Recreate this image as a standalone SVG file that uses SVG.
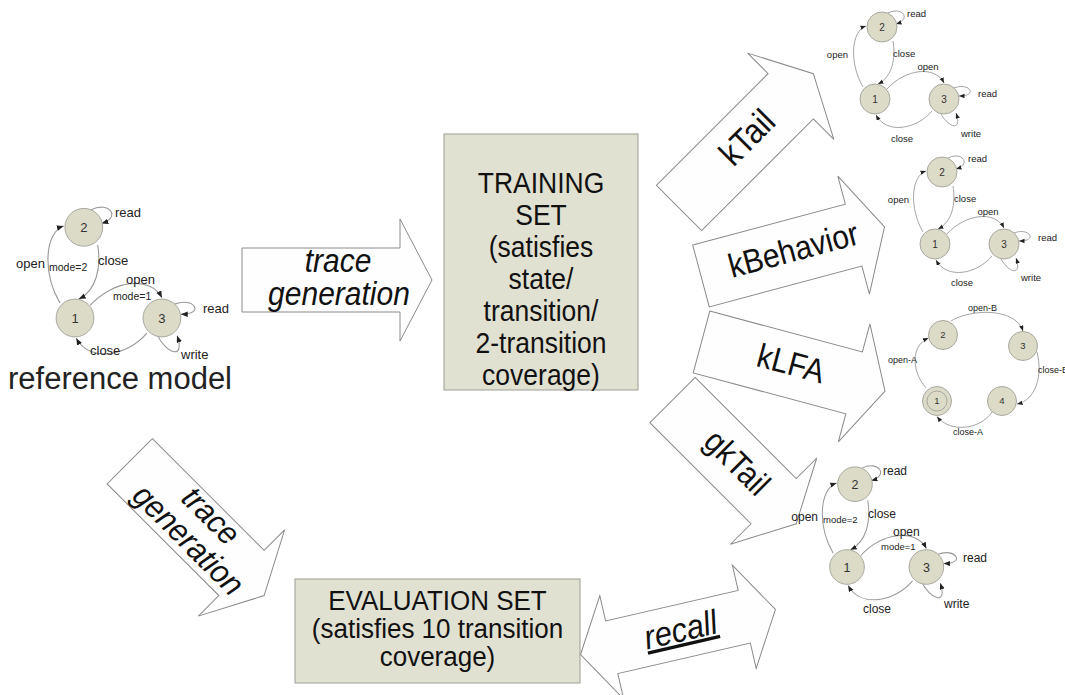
<svg xmlns="http://www.w3.org/2000/svg" xmlns:xlink="http://www.w3.org/1999/xlink" width="1065" height="695" viewBox="0 0 1065 695">
  <defs>
    <style>
      .blk { fill: #fefefe; stroke: #8a8a8a; stroke-width: 1; }
      .box { fill: #e1e1d2; stroke: #9c9c94; stroke-width: 1; }
      .st { fill: #dcdbc7; stroke: #a8a8a0; stroke-width: 1; }
      .num { font-family: "Liberation Sans", Arial, sans-serif; fill: #333; text-anchor: middle; }
      .lbl { font-family: "Liberation Sans", Arial, sans-serif; fill: #222; }
      .big { font-family: "Liberation Sans", Arial, sans-serif; fill: #111; text-anchor: middle; }
      .it { font-style: italic; }
      .e { fill: none; stroke: #9a9a9a; stroke-width: 0.9; marker-end: url(#ah); }
    </style>
    <marker id="ah" markerUnits="userSpaceOnUse" markerWidth="6" markerHeight="5" refX="5.5" refY="2.2" orient="auto">
      <path d="M0,0 L5.5,2.2 L0,4.4 z" fill="#222"/>
    </marker>
    <!-- single block arrow pointing along +x, tail centre at origin -->
    <path id="blockArrow" d="M0,-32 L158,-32 L158,-61 L190,0 L158,61 L158,32 L0,32 Z"/>
    <path id="blockArrowShort" d="M0,-32 L143,-32 L143,-61 L175,0 L143,61 L143,32 L0,32 Z"/>
    <!-- transition set shared by the four open/read/write/close machines (node 1 at origin) -->
    <g id="fsmEdges">
      <path class="e" d="M-12,-12 C-26,-36 -24,-68 -9,-73"/>
      <path class="e" d="M18,-58 C21,-40 17,-22 3,-15"/>
      <path class="e" d="M13,-86 C27,-93 37,-80 21,-75"/>
      <path class="e" d="M12,-10 C30,-30 60,-34 69,-16"/>
      <path class="e" d="M79,-11 C94,-17 104,-3 84,-3"/>
      <path class="e" d="M65,13 C72,28 88,34 81,14"/>
      <path class="e" d="M57,12 C42,30 12,36 1,16"/>
    </g>
  </defs>

  <!-- ===== connectors (block arrows and machine transitions) ===== -->
  <g id="connectors">
    <g id="arrow-trace-generation-1" transform="translate(242,280)">
      <use xlink:href="#blockArrow" class="blk"/>
      <text class="big it" font-size="30" transform="translate(96,-8) scale(1,1.08)">trace</text>
      <text class="big it" font-size="30" transform="translate(97,25) scale(1,1.08)">generation</text>
    </g>
    <g id="arrow-ktail" transform="translate(679,208) rotate(-45)">
      <use xlink:href="#blockArrow" class="blk"/>
      <text class="big" font-size="31" transform="translate(98,10) scale(1,1.12)">kTail</text>
    </g>
    <g id="arrow-kbehavior" transform="translate(701,276) rotate(-15)">
      <use xlink:href="#blockArrow" class="blk"/>
      <text class="big" font-size="30" transform="translate(96,10) scale(1,1.12)">kBehavior</text>
    </g>
    <g id="arrow-klfa" transform="translate(701.5,342) rotate(15)">
      <use xlink:href="#blockArrow" class="blk"/>
      <text class="big" font-size="30" transform="translate(92,9) scale(1,1.12)">kLFA</text>
    </g>
    <g id="arrow-gktail" transform="translate(672.5,400) rotate(45)">
      <use xlink:href="#blockArrowShort" class="blk"/>
      <text class="big" font-size="30" transform="translate(90,10) scale(1,1.12)">gkTail</text>
    </g>
    <g id="arrow-trace-generation-2" transform="translate(129.75,461.25) rotate(45)">
      <use xlink:href="#blockArrow" class="blk"/>
      <text class="big it" font-size="30" transform="translate(96,-8) scale(1,1.08)">trace</text>
      <text class="big it" font-size="30" transform="translate(97,25) scale(1,1.08)">generation</text>
    </g>
    <g id="arrow-recall" transform="translate(678,632) rotate(-13)">
      <path class="blk" d="M-100,0 L-68,-53 L-68,-27 L68,-27 L68,-53 L100,0 L68,53 L68,27 L-68,27 L-68,53 Z"/>
      <text class="big it" font-size="31" text-decoration="underline" transform="translate(3,10) scale(1,1.1)">recall</text>
    </g>

    <!-- machine transitions -->
    <g id="edges-reference" transform="translate(75,318) scale(1.26)"><use xlink:href="#fsmEdges"/></g>
    <g id="edges-ktail" transform="translate(875,99)"><use xlink:href="#fsmEdges"/></g>
    <g id="edges-kbehavior" transform="translate(935,244)"><use xlink:href="#fsmEdges"/></g>
    <g id="edges-gktail" transform="translate(847,567) scale(1.15)"><use xlink:href="#fsmEdges"/></g>
    <g id="edges-klfa">
      <path class="e" d="M926,388 C912,372 910,346 928.5,338"/>
      <path class="e" d="M951,321 C970,309 1015,307 1023,331"/>
      <path class="e" d="M1037,352 C1043,375 1036,400 1017,404"/>
      <path class="e" d="M992,412 C980,430 950,433 937,416.5"/>
    </g>
  </g>

  <!-- ===== data sets ===== -->
  <g id="training-set">
    <rect class="box" x="444" y="134" width="194" height="256"/>
    <text class="big" font-size="26.5" transform="translate(541,193) scale(1,1.1)">TRAINING</text>
    <text class="big" font-size="26.5" transform="translate(541,225) scale(1,1.1)">SET</text>
    <text class="big" font-size="26.5" transform="translate(541,257) scale(1,1.1)">(satisfies</text>
    <text class="big" font-size="26.5" transform="translate(541,289) scale(1,1.1)">state/</text>
    <text class="big" font-size="26.5" transform="translate(541,321) scale(1,1.1)">transition/</text>
    <text class="big" font-size="26.5" transform="translate(541,353) scale(1,1.1)">2-transition</text>
    <text class="big" font-size="26.5" transform="translate(541,385) scale(1,1.1)">coverage)</text>
  </g>
  <g id="evaluation-set">
    <rect class="box" x="295" y="579" width="285" height="104"/>
    <text class="big" font-size="26" transform="translate(437.5,610) scale(1,1.07)">EVALUATION SET</text>
    <text class="big" font-size="26" transform="translate(437.5,638) scale(1,1.07)">(satisfies 10 transition</text>
    <text class="big" font-size="26" transform="translate(437.5,666) scale(1,1.07)">coverage)</text>
  </g>

  <!-- ===== reference model ===== -->
  <g id="reference-model">
    <g id="ref-s2"><circle class="st" cx="83.8" cy="227.3" r="18.9"/><text class="num" font-size="13" x="83.8" y="232">2</text></g>
    <g id="ref-s1"><circle class="st" cx="75" cy="318" r="18.9"/><text class="num" font-size="13" x="75" y="322.7">1</text></g>
    <g id="ref-s3"><circle class="st" cx="161.9" cy="318" r="18.9"/><text class="num" font-size="13" x="161.9" y="322.7">3</text></g>
    <g class="lbl" font-size="13">
      <text x="115" y="217">read</text>
      <text x="45" y="268" text-anchor="end">open</text>
      <text x="49" y="270.5" font-size="10.5">mode=2</text>
      <text x="98" y="265">close</text>
      <text x="126" y="284">open</text>
      <text x="113" y="299.5" font-size="10.5">mode=1</text>
      <text x="203" y="312.5">read</text>
      <text x="90" y="355">close</text>
      <text x="181" y="359">write</text>
    </g>
    <text class="lbl" font-size="31" x="8" y="389">reference model</text>
  </g>

  <!-- ===== kTail result ===== -->
  <g id="ktail-model">
    <g id="kt-s2"><circle class="st" cx="882" cy="27" r="15"/><text class="num" font-size="10" x="882" y="30.6">2</text></g>
    <g id="kt-s1"><circle class="st" cx="875" cy="99" r="15"/><text class="num" font-size="10" x="875" y="102.6">1</text></g>
    <g id="kt-s3"><circle class="st" cx="944" cy="99" r="15"/><text class="num" font-size="10" x="944" y="102.6">3</text></g>
    <g class="lbl" font-size="9.5">
      <text x="907" y="17">read</text>
      <text x="893" y="57">close</text>
      <text x="848" y="58" text-anchor="end">open</text>
      <text x="928" y="70" text-anchor="middle">open</text>
      <text x="978" y="97">read</text>
      <text x="902" y="142" text-anchor="middle">close</text>
      <text x="961" y="137">write</text>
    </g>
  </g>

  <!-- ===== kBehavior result ===== -->
  <g id="kbehavior-model">
    <g id="kb-s2"><circle class="st" cx="942" cy="172" r="15"/><text class="num" font-size="10" x="942" y="175.6">2</text></g>
    <g id="kb-s1"><circle class="st" cx="935" cy="244" r="15"/><text class="num" font-size="10" x="935" y="247.6">1</text></g>
    <g id="kb-s3"><circle class="st" cx="1004" cy="244" r="15"/><text class="num" font-size="10" x="1004" y="247.6">3</text></g>
    <g class="lbl" font-size="9.5">
      <text x="968" y="162">read</text>
      <text x="954" y="202">close</text>
      <text x="909" y="203" text-anchor="end">open</text>
      <text x="988" y="215" text-anchor="middle">open</text>
      <text x="1038" y="241">read</text>
      <text x="962" y="286" text-anchor="middle">close</text>
      <text x="1021" y="281">write</text>
    </g>
  </g>

  <!-- ===== kLFA result ===== -->
  <g id="klfa-model">
    <g id="kl-s2"><circle class="st" cx="943" cy="335" r="14.5"/><text class="num" font-size="9.5" x="943" y="338.4">2</text></g>
    <g id="kl-s3"><circle class="st" cx="1023" cy="346" r="14.5"/><text class="num" font-size="9.5" x="1023" y="349.4">3</text></g>
    <g id="kl-s1"><circle class="st" cx="937" cy="401" r="14.5"/><circle class="st" cx="937" cy="401" r="10"/><text class="num" font-size="9.5" x="937" y="404.4">1</text></g>
    <g id="kl-s4"><circle class="st" cx="1002" cy="401" r="14.5"/><text class="num" font-size="9.5" x="1002" y="404.4">4</text></g>
    <g class="lbl" font-size="9">
      <text x="968" y="311">open-B</text>
      <text x="917" y="363" text-anchor="end">open-A</text>
      <text x="1038" y="373">close-B</text>
      <text x="953" y="435">close-A</text>
    </g>
  </g>

  <!-- ===== gkTail result ===== -->
  <g id="gktail-model">
    <g id="gk-s2"><circle class="st" cx="855" cy="484.2" r="17.3"/><text class="num" font-size="12.5" x="855" y="488.7">2</text></g>
    <g id="gk-s1"><circle class="st" cx="847" cy="567" r="17.3"/><text class="num" font-size="12.5" x="847" y="571.5">1</text></g>
    <g id="gk-s3"><circle class="st" cx="926.4" cy="567" r="17.3"/><text class="num" font-size="12.5" x="926.4" y="571.5">3</text></g>
    <g class="lbl" font-size="12">
      <text x="883" y="474.5">read</text>
      <text x="818" y="521" text-anchor="end">open</text>
      <text x="823" y="523" font-size="9.5">mode=2</text>
      <text x="868" y="518">close</text>
      <text x="893" y="535.5">open</text>
      <text x="881" y="549.5" font-size="9.5">mode=1</text>
      <text x="963" y="561.5">read</text>
      <text x="944" y="608">write</text>
      <text x="863" y="613">close</text>
    </g>
  </g>
</svg>
